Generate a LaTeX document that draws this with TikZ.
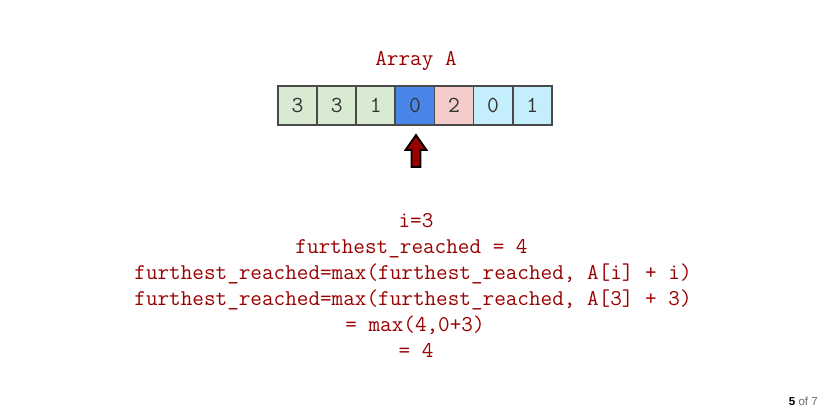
\documentclass[tikz,border=0pt]{standalone}
\usepackage{fontspec}
\setmainfont{Liberation Sans}
\usepackage{tikz}
\usetikzlibrary{calc}
\definecolor{codered}{HTML}{990000}
\definecolor{cellline}{HTML}{4A4A4A}
\definecolor{cgreen}{HTML}{D9EAD3}
\definecolor{cblue}{HTML}{4A86E8}
\definecolor{cpink}{HTML}{F4CCCC}
\definecolor{ccyan}{HTML}{C4EEFC}
\definecolor{pggray}{HTML}{6A6A6A}
\tikzset{
	cell/.style={draw=cellline, line width=1.3pt, minimum width=0.9775cm, minimum height=0.975cm, inner sep=0pt, text=black!80, font=\ttfamily\fontsize{16.3}{18}\selectfont},
	codeline/.style={anchor=base, text=codered, inner sep=0pt, font=\ttfamily\fontsize{16.03}{18}\selectfont},
}
\begin{document}
\begin{tikzpicture}[x=0.025cm, y=-0.025cm]
			%%%%% START %%%%%
			\useasboundingbox (0, 0) rectangle (826, 412);
			
			\node[codeline] (title) at (416, 66) {Array A};
			
			\foreach \v/\c [count=\i from 0] in {3/cgreen, 3/cgreen, 1/cgreen, 0/cblue, 2/cpink, 0/ccyan, 1/ccyan}
				\node[cell, fill=\c] (a\i) at ({297.6+39.1*\i}, 105.5) {\v};
			
			\draw[line width=1.3pt, fill=codered, line join=miter] (416, 135) -- (426.5, 150) -- (420.5, 150) -- (420.5, 167) -- (411.5, 167) -- (411.5, 150) -- (405.5, 150) -- cycle;
			
			\node[codeline] (l1) at (416, 227) {i=3};
			\node[codeline] (l2) at (411.5, 253) {furthest\_reached = 4};
			\node[codeline] (l3) at (413, 279) {furthest\_reached=max(furthest\_reached, A[i] + i)};
			\node[codeline] (l4) at (413, 305) {furthest\_reached=max(furthest\_reached, A[3] + 3)};
			\node[codeline] (l5) at (415, 331) {= max(4,0+3)};
			\node[codeline] (l6) at (416, 357) {= 4};
			
			\node[anchor=base east, inner sep=0pt, text=pggray, font=\fontsize{8.2}{9}\selectfont] (page) at (818, 405) {{\bfseries\color{black}5} of 7};
			%%%%% END %%%%%
		\end{tikzpicture}
\end{document}
